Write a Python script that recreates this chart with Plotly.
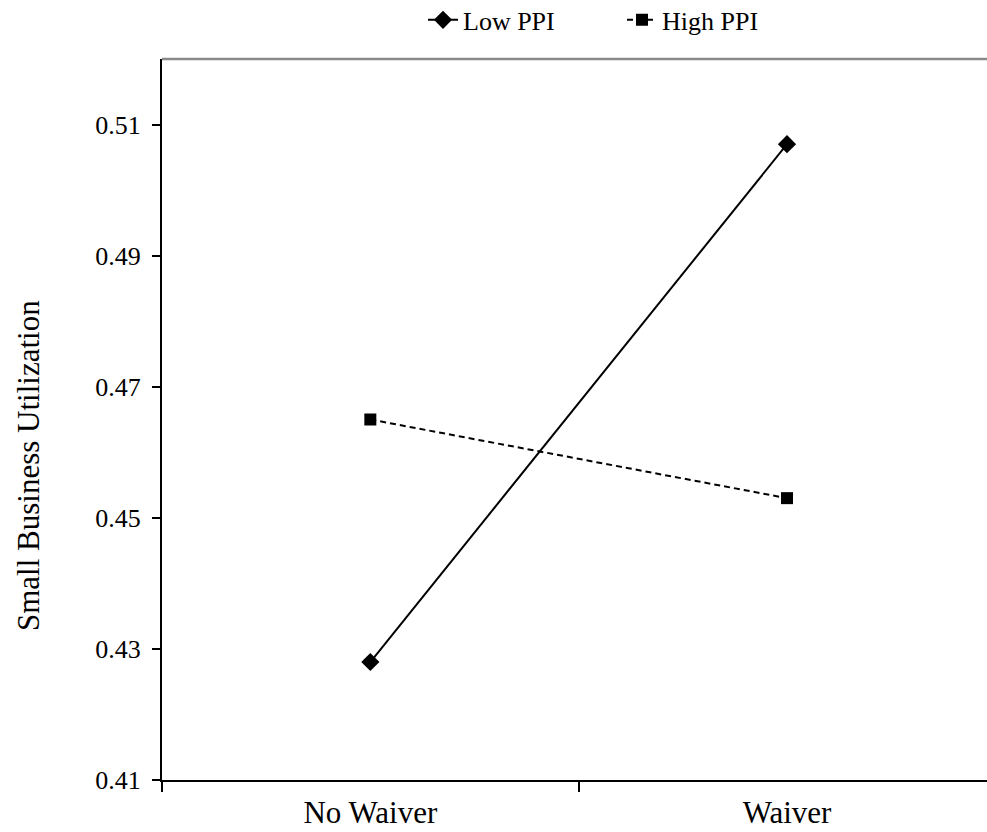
import plotly.graph_objects as go

categories = ["No Waiver", "Waiver"]
low_ppi = [0.428, 0.507]
high_ppi = [0.465, 0.453]
y_ticks = [0.41, 0.43, 0.45, 0.47, 0.49, 0.51]
y_tick_text = ["0.41", "0.43", "0.45", "0.47", "0.49", "0.51"]
y_title = "Small Business Utilization"

FONT = "Liberation Serif, Times New Roman, serif"

fig = go.Figure()
fig.add_trace(go.Scatter(
    x=categories, y=low_ppi, name="Low PPI", mode="lines+markers",
    line=dict(color="black", width=2),
    marker=dict(symbol="diamond", size=14, color="black"),
))
fig.add_trace(go.Scatter(
    x=categories, y=high_ppi, name="High PPI", mode="lines+markers",
    line=dict(color="black", width=2, dash="6px,4px"),
    marker=dict(symbol="square", size=12, color="black"),
))

fig.update_layout(
    width=987, height=832,
    margin=dict(l=162, r=0, t=59, b=52, autoexpand=False),
    paper_bgcolor="white", plot_bgcolor="white",
    font=dict(family=FONT, color="black"),
    showlegend=True,
    legend=dict(orientation="h", x=(423 - 162) / 825, xanchor="left",
                yref="container", y=0.976, yanchor="middle",
                entrywidth=154,
                font=dict(size=26, family=FONT, color="black"),
                bgcolor="rgba(0,0,0,0)"),
    shapes=[dict(type="line", xref="paper", yref="paper", x0=0, x1=1, y0=1, y1=1,
                 line=dict(color="#8a8a8a", width=2.5))],
    annotations=[dict(text=y_title, xref="paper", yref="paper",
                      x=(28 - 162) / 825, y=(780 - 466) / 721,
                      xanchor="center", yanchor="middle", textangle=-90,
                      showarrow=False, font=dict(size=31, family=FONT, color="black"))],
)
fig.update_xaxes(
    type="category", range=[-0.5, 1.48], automargin=False,
    showline=True, linecolor="black", linewidth=2,
    ticks="outside", tickson="boundaries", ticklen=10, tickwidth=2, tickcolor="black",
    ticklabelstandoff=4,
    showgrid=False, zeroline=False,
    tickfont=dict(size=31, family=FONT, color="black"),
)
fig.update_yaxes(
    range=[0.41, 0.52], tickvals=y_ticks, ticktext=y_tick_text, automargin=False,
    showline=True, linecolor="black", linewidth=2,
    ticks="outside", ticklen=8, tickwidth=2, tickcolor="black",
    ticklabelstandoff=6,
    showgrid=False, zeroline=False,
    tickfont=dict(size=26, family=FONT, color="black"),
)

fig.write_html("out.html", config={"displayModeBar": False},
               post_script="document.body.style.margin='0px';document.body.style.overflow='hidden';")
